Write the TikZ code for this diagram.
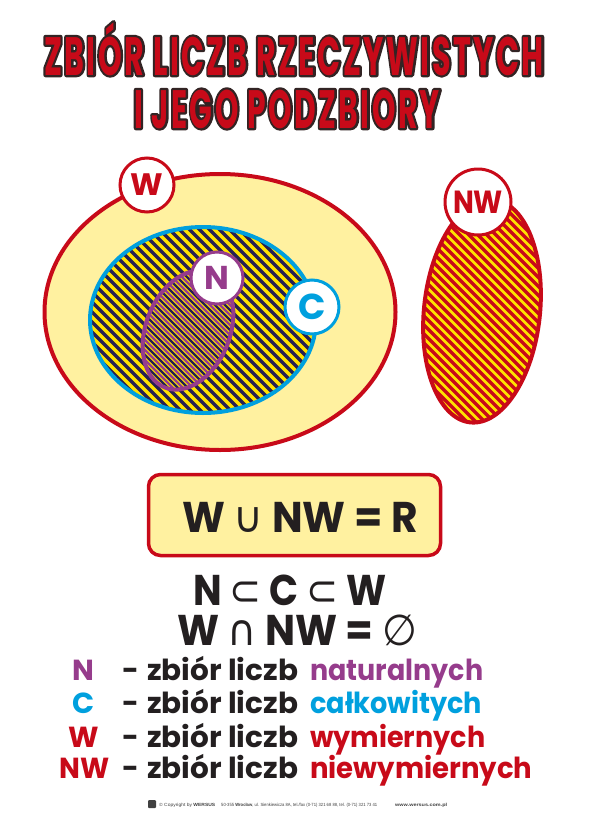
\documentclass[tikz,border=0pt]{standalone}
\usepackage{fontspec}
\usepackage{graphicx}
\setmainfont{Poppins}
\newfontfamily\titlef{Poppins}[FakeStretch=0.6,LetterSpace=5]
\newfontfamily\symf{DejaVu Sans}
\newfontfamily\footf{Liberation Sans}
\usetikzlibrary{calc}
\definecolor{wred}{RGB}{200,10,25}
\definecolor{paleyellow}{RGB}{255,241,160}
\definecolor{hatchyellow}{RGB}{255,226,0}
\definecolor{navyc}{RGB}{38,32,82}
\definecolor{cyanc}{RGB}{0,160,222}
\definecolor{purplen}{RGB}{150,60,140}
\definecolor{textblack}{RGB}{35,31,32}
\definecolor{outlinec}{RGB}{50,36,36}
\newcommand\mytitleA{\resizebox{500pt}{\height}{ZBIÓR LICZB RZECZYWISTYCH}}
\newcommand\mytitleB{\resizebox{306pt}{\height}{I JEGO PODZBIORY}}
\newcommand\mystroked[1]{\special{pdf:code q 1 Tr 4.6 w 1 j 1 J}#1\special{pdf:code Q}}
\tikzset{
  titletext/.style={anchor=base,inner sep=0pt,font=\titlef\bfseries\fontsize{54}{56}\selectfont},
  setlabel/.style={circle,fill=white,line width=3pt,inner sep=0pt,minimum size=54pt,font=\bfseries\fontsize{32}{34}\selectfont},
  heavy/.style={anchor=base,inner sep=0pt,text=textblack,font=\bfseries\fontsize{43}{45}\selectfont},
  legend/.style={anchor=base west,inner sep=0pt,text=textblack,font=\bfseries\fontsize{29}{31}\selectfont},
  legendlab/.style={anchor=base,inner sep=0pt,font=\bfseries\fontsize{29}{31}\selectfont},
  navyline/.style={draw=navyc,line width=3.4pt},
  navythin/.style={draw=navyc,line width=2.3pt},
  purpleline/.style={draw=purplen,line width=2.3pt},
  redline/.style={draw=wred,line width=3.2pt},
  foot/.style={anchor=base west,inner sep=0pt,text=black!75,font=\footf\fontsize{4.5}{5}\selectfont}
}
\begin{document}
\begin{tikzpicture}[x=1pt,y=-1pt]
\useasboundingbox (0,0) rectangle (589,827);
\fill[white] (0,0) rectangle (589,827);

% ---------- title ----------
\coordinate (t1) at (294,75);
\coordinate (t2) at (287,128);
\node[titletext,text=outlinec] (title1o) at (t1) {\mystroked{\mytitleA}};
\node[titletext,text=outlinec] (title2o) at (t2) {\mystroked{\mytitleB}};
\node[titletext,text=wred] (title1) at (t1) {\mytitleA};
\node[titletext,text=wred] (title2) at (t2) {\mytitleB};

% ---------- W (rational) ----------
\draw[draw=wred,fill=paleyellow,line width=4pt] (220,312) ellipse [x radius=175.5, y radius=138];

% ---------- C (integers) hatch ----------
\begin{scope}
  \clip (203,320) ellipse [x radius=113, y radius=93];
  \fill[hatchyellow] (80,220) rectangle (330,420);
  \foreach \c in {-340,-330,...,110}{
    \draw[navyline] (\c+200,200) -- (\c+450,450);
  }
\end{scope}
\draw[draw=cyanc,line width=4pt] (203,320) ellipse [x radius=113, y radius=93];

% ---------- N (naturals) hatch ----------
\begin{scope}
  \clip[rotate around={-22:(188,330)}] (188,330) ellipse [x radius=42, y radius=62];
  \fill[hatchyellow] (120,250) rectangle (260,410);
  \foreach \c in {-280,-270,...,0}{
    \draw[navythin] (\c+250,250) -- (\c+420,420);
    \draw[purpleline] (\c+255,250) -- (\c+425,420);
  }
\end{scope}
\draw[draw=purplen,line width=4pt,rotate around={-22:(188,330)}] (188,330) ellipse [x radius=42, y radius=62];

% ---------- NW (irrationals) ----------
\begin{scope}
  \clip[rotate around={-6:(482,311)}] (482,311) ellipse [x radius=58, y radius=112];
  \fill[hatchyellow] (410,190) rectangle (560,440);
  \foreach \c in {-27,-18,...,369}{
    \draw[redline] (\c+180,180) -- (\c+450,450);
  }
\end{scope}
\draw[draw=wred,line width=4pt,rotate around={-6:(482,311)}] (482,311) ellipse [x radius=58, y radius=112];

% ---------- set labels ----------
\node[setlabel,draw=wred,text=wred,font=\bfseries\fontsize{31}{33}\selectfont] (lW) at (147,185) {W};
\node[setlabel,draw=cyanc,text=cyanc,font=\bfseries\fontsize{36}{38}\selectfont] (lC) at (312,307) {C};
\node[setlabel,draw=purplen,text=purplen,minimum size=52pt,font=\bfseries\fontsize{33}{35}\selectfont] (lN) at (217,278) {N};
\node[setlabel,draw=wred,text=wred,minimum size=66pt] (lNW) at (478,202) {\resizebox{50pt}{\height}{NW}};

% ---------- formula box ----------
\node[draw=wred,line width=3.5pt,fill=paleyellow,rounded corners=12pt,minimum width=292pt,minimum height=81pt,inner sep=0pt] (box) at (294.5,515) {};
\node[heavy] (f1) at (300,532) {\resizebox{236pt}{\height}{W {\symf\mdseries ∪} NW = R}};
\node[heavy] (f2) at (290,605) {\resizebox{194pt}{\height}{N {\symf\mdseries ⊂} C {\symf\mdseries ⊂} W}};
\node[heavy] (f3) at (297,645) {\resizebox{240pt}{\height}{W {\symf\mdseries ∩} NW = {\symf\mdseries ∅}}};

% ---------- legend ----------
\node[legendlab,text=purplen] (gN) at (83,680) {N};
\node[legend] (dN) at (122,680) {-};
\node[legend] (zN) at (147,680) {\resizebox{151pt}{\height}{zbiór liczb}};
\node[legend,text=purplen] (wN) at (310,680) {\resizebox{173pt}{\height}{naturalnych}};

\node[legendlab,text=cyanc] (gC) at (84,713) {C};
\node[legend] (dC) at (122,713) {-};
\node[legend] (zC) at (147,713) {\resizebox{151pt}{\height}{zbiór liczb}};
\node[legend,text=cyanc] (wC) at (310,713) {\resizebox{172pt}{\height}{całkowitych}};

\node[legendlab,text=wred] (gW) at (84,747) {W};
\node[legend] (dW) at (122,747) {-};
\node[legend] (zW) at (147,747) {\resizebox{151pt}{\height}{zbiór liczb}};
\node[legend,text=wred] (wW) at (310,747) {\resizebox{175pt}{\height}{wymiernych}};

\node[legendlab,text=wred] (gNW) at (85,778) {\resizebox{50pt}{\height}{NW}};
\node[legend] (dNW) at (122,778) {-};
\node[legend] (zNW) at (147,778) {\resizebox{151pt}{\height}{zbiór liczb}};
\node[legend,text=wred] (wNW) at (310,778) {\resizebox{222pt}{\height}{niewymiernych}};

% ---------- footer ----------
\node[fill=black!75,minimum size=8pt,inner sep=0pt,rounded corners=1pt] (logo) at (152,804) {};
\node[foot] (copy) at (159,806) {\resizebox{56pt}{\height}{© Copyright by \textbf{WERSUS}}};
\node[foot] (addr) at (221,806) {\resizebox{156pt}{\height}{50-355 \textbf{Wrocław}, ul. Sienkiewicza 8A, tel./fax (0-71) 321 68 88, tel. (0-71) 321 73 41}};
\node[foot] (www) at (395,806) {\resizebox{52pt}{\height}{\textbf{www.wersus.com.pl}}};
\end{tikzpicture}
\end{document}
